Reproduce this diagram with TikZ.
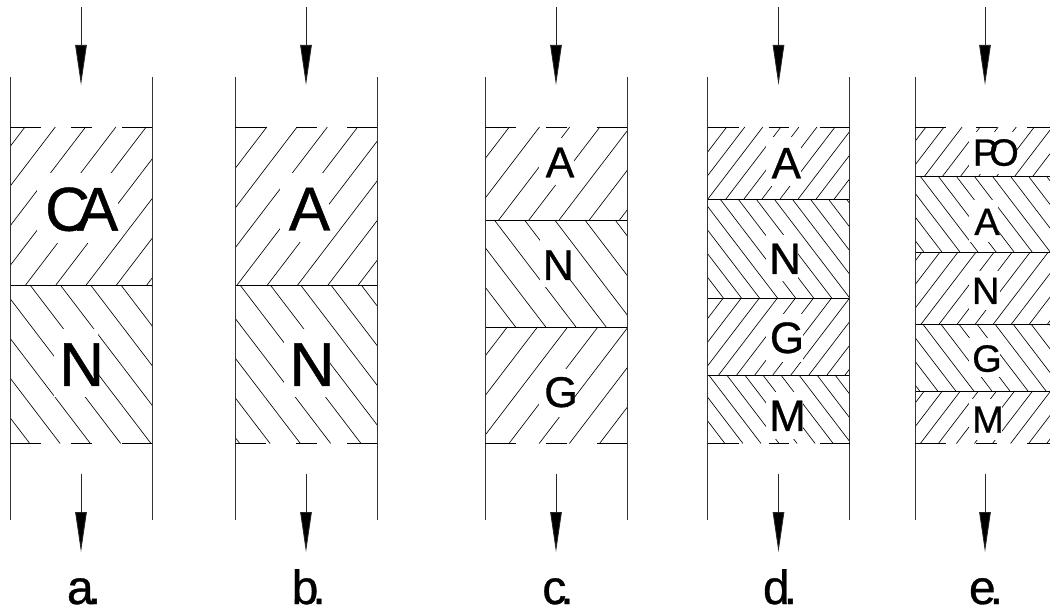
\documentclass[tikz,border=0pt]{standalone}
\usepackage{fontspec}
\setmainfont{Liberation Sans}[RawFeature={embolden=0.7}]
\usetikzlibrary{arrows.meta}
\tikzset{
  wall/.style={line width=0.85pt,black!80},
  hatchline/.style={line width=0.65pt,black},
  sep/.style={line width=0.85pt,black},
  flow/.style={line width=0.85pt,black!85,-{Triangle[length=40pt,width=11.5pt,fill=black]}},
  lab/.style={anchor=base,inner sep=0pt,outer sep=0pt,text=black},
}
% #1 x0, #2 y top, #3 y bottom, #4 spacing, #5 sign (-1 = /, 1 = \), #6 phase
\newcommand{\hatchlayer}[6]{%
  \begin{scope}
    \clip (#1,#2) rectangle (#1+142,#3);
    \pgfmathsetmacro{\hrun}{(#3-#2)/1.31*#5}
    \foreach \k in {-10,...,24}{
      \pgfmathsetmacro{\hx}{#1+#6+\k*#4}
      \pgfmathsetmacro{\hxb}{\hx+\hrun}
      \draw[hatchline] (\hx,#2) -- (\hxb,#3);
    }
  \end{scope}}
\newcommand{\gapbox}[4]{\fill[white] (#1,#3) rectangle (#2,#4);}
\newcommand{\capline}[2]{%
  \draw[sep] (#1,#2) -- (#1+31,#2);
  \draw[sep] (#1+61,#2) -- (#1+81.5,#2);
  \draw[sep] (#1+112,#2) -- (#1+142,#2);}
\newcommand{\columnframe}[3]{%
  \coordinate (#3wt) at (#1,77); \coordinate (#3wb) at (#1,520);
  \coordinate (#3vt) at (#1+142,77); \coordinate (#3vb) at (#1+142,520);
  \coordinate (#3at) at (#2,7); \coordinate (#3ah) at (#2,85);
  \coordinate (#3bt) at (#2,474); \coordinate (#3bh) at (#2,552);
  \draw[wall] (#3wt) -- (#3wb);
  \draw[wall] (#3vt) -- (#3vb);
  \draw[flow] (#3at) -- (#3ah);
  \draw[flow] (#3bt) -- (#3bh);
  \capline{#1}{127}\capline{#1}{443.5}}
\begin{document}
\begin{tikzpicture}[x=1pt,y=-1pt]
\useasboundingbox (0,0) rectangle (1050,609);
% ---------- a
\hatchlayer{10}{127}{285}{30.3}{-1}{15}
\hatchlayer{10}{285}{443.5}{30.3}{1}{20}
\gapbox{36.7}{118}{173}{243}
\gapbox{54}{98}{329}{397}
\draw[sep] (10,285) -- (152,285);
\columnframe{10}{81}{a}
\node[lab,font=\fontsize{62}{62}\selectfont] (caA) at (81.7,230.7) {C\kern-13ptA};
\node[lab,font=\fontsize{62}{62}\selectfont] (caN) at (81.7,386) {N};
\node[lab,font=\fontsize{48}{48}\selectfont] (capa) at (84,604) {a\kern-6pt.};
% ---------- b
\hatchlayer{235}{127}{285}{30.3}{-1}{1.5}
\hatchlayer{235}{285}{443.5}{30.3}{1}{5}
\gapbox{280}{329.3}{173}{242}
\gapbox{284}{330}{329}{397}
\draw[sep] (235,285) -- (377,285);
\columnframe{235}{306}{b}
\node[lab,font=\fontsize{62}{62}\selectfont] (cbA) at (309.5,230.5) {A};
\node[lab,font=\fontsize{62}{62}\selectfont] (cbN) at (312,386) {N};
\node[lab,font=\fontsize{48}{48}\selectfont] (capb) at (308.7,604) {b\kern-6pt.};
% ---------- c
\hatchlayer{485}{127}{220}{30.2}{-1}{24.3}
\hatchlayer{485}{220}{327}{30.2}{1}{9.3}
\hatchlayer{485}{327}{443.5}{30.2}{-1}{22.3}
\gapbox{539.3}{574}{138}{185}
\gapbox{540}{570}{240}{287}
\gapbox{539.3}{566.7}{368.7}{417}
\draw[sep] (485,220) -- (627,220);
\draw[sep] (485,327) -- (627,327);
\columnframe{485}{556}{c}
\node[lab,font=\fontsize{43}{43}\selectfont] (ccA) at (560,177.3) {A};
\node[lab,font=\fontsize{43}{43}\selectfont] (ccN) at (558.3,280) {N};
\node[lab,font=\fontsize{43}{43}\selectfont] (ccG) at (561,407) {G};
\node[lab,font=\fontsize{48}{48}\selectfont] (capc) at (558,604) {c\kern-6pt.};
% ---------- d
\hatchlayer{707.5}{127}{199}{18.05}{-1}{1.2}
\hatchlayer{707.5}{199}{298}{18.05}{1}{12.5}
\hatchlayer{707.5}{298}{375}{18.05}{-1}{15.8}
\hatchlayer{707.5}{375}{443.5}{18.05}{1}{1.2}
\gapbox{766}{800.7}{137.5}{186}
\gapbox{766}{798}{235}{281}
\gapbox{766}{803}{314}{362}
\gapbox{766}{803}{392}{439}
\draw[sep] (707.5,199) -- (849.5,199);
\draw[sep] (707.5,298) -- (849.5,298);
\draw[sep] (707.5,375) -- (849.5,375);
\columnframe{707.5}{778.5}{d}
\node[lab,font=\fontsize{44}{44}\selectfont] (cdA) at (786.3,178.3) {A};
\node[lab,font=\fontsize{44}{44}\selectfont] (cdN) at (785,274) {N};
\node[lab,font=\fontsize{44}{44}\selectfont] (cdG) at (787,353) {G};
\node[lab,font=\fontsize{44}{44}\selectfont] (cdM) at (787.5,431) {M};
\node[lab,font=\fontsize{48}{48}\selectfont] (capd) at (780,604) {d\kern-6pt.};
% ---------- e
\hatchlayer{915}{127}{176}{18.05}{-1}{11}
\hatchlayer{915}{176}{252}{18.05}{1}{5}
\hatchlayer{915}{252}{324}{18.05}{-1}{7}
\hatchlayer{915}{324}{391}{18.05}{1}{7.7}
\hatchlayer{915}{391}{443.5}{18.05}{-1}{9.3}
\gapbox{969.3}{1016}{132}{174}
\gapbox{969.3}{998.3}{200}{241.7}
\gapbox{969.3}{1000}{271}{310}
\gapbox{969.3}{1000}{338}{377}
\gapbox{969.3}{1002}{399}{440}
\draw[sep] (915,176) -- (1057,176);
\draw[sep] (915,252) -- (1057,252);
\draw[sep] (915,324) -- (1057,324);
\draw[sep] (915,391) -- (1057,391);
\columnframe{915}{985}{e}
\node[lab,font=\fontsize{38}{38}\selectfont] (ceP) at (995.8,165.7) {P\kern-9ptO};
\node[lab,font=\fontsize{38}{38}\selectfont] (ceA) at (987,235) {A};
\node[lab,font=\fontsize{38}{38}\selectfont] (ceN) at (985.7,304) {N};
\node[lab,font=\fontsize{38}{38}\selectfont] (ceG) at (987,371.7) {G};
\node[lab,font=\fontsize{38}{38}\selectfont] (ceM) at (988,432.7) {M};
\node[lab,font=\fontsize{48}{48}\selectfont] (cape) at (986,604) {e\kern-6pt.};
\end{tikzpicture}
\end{document}
